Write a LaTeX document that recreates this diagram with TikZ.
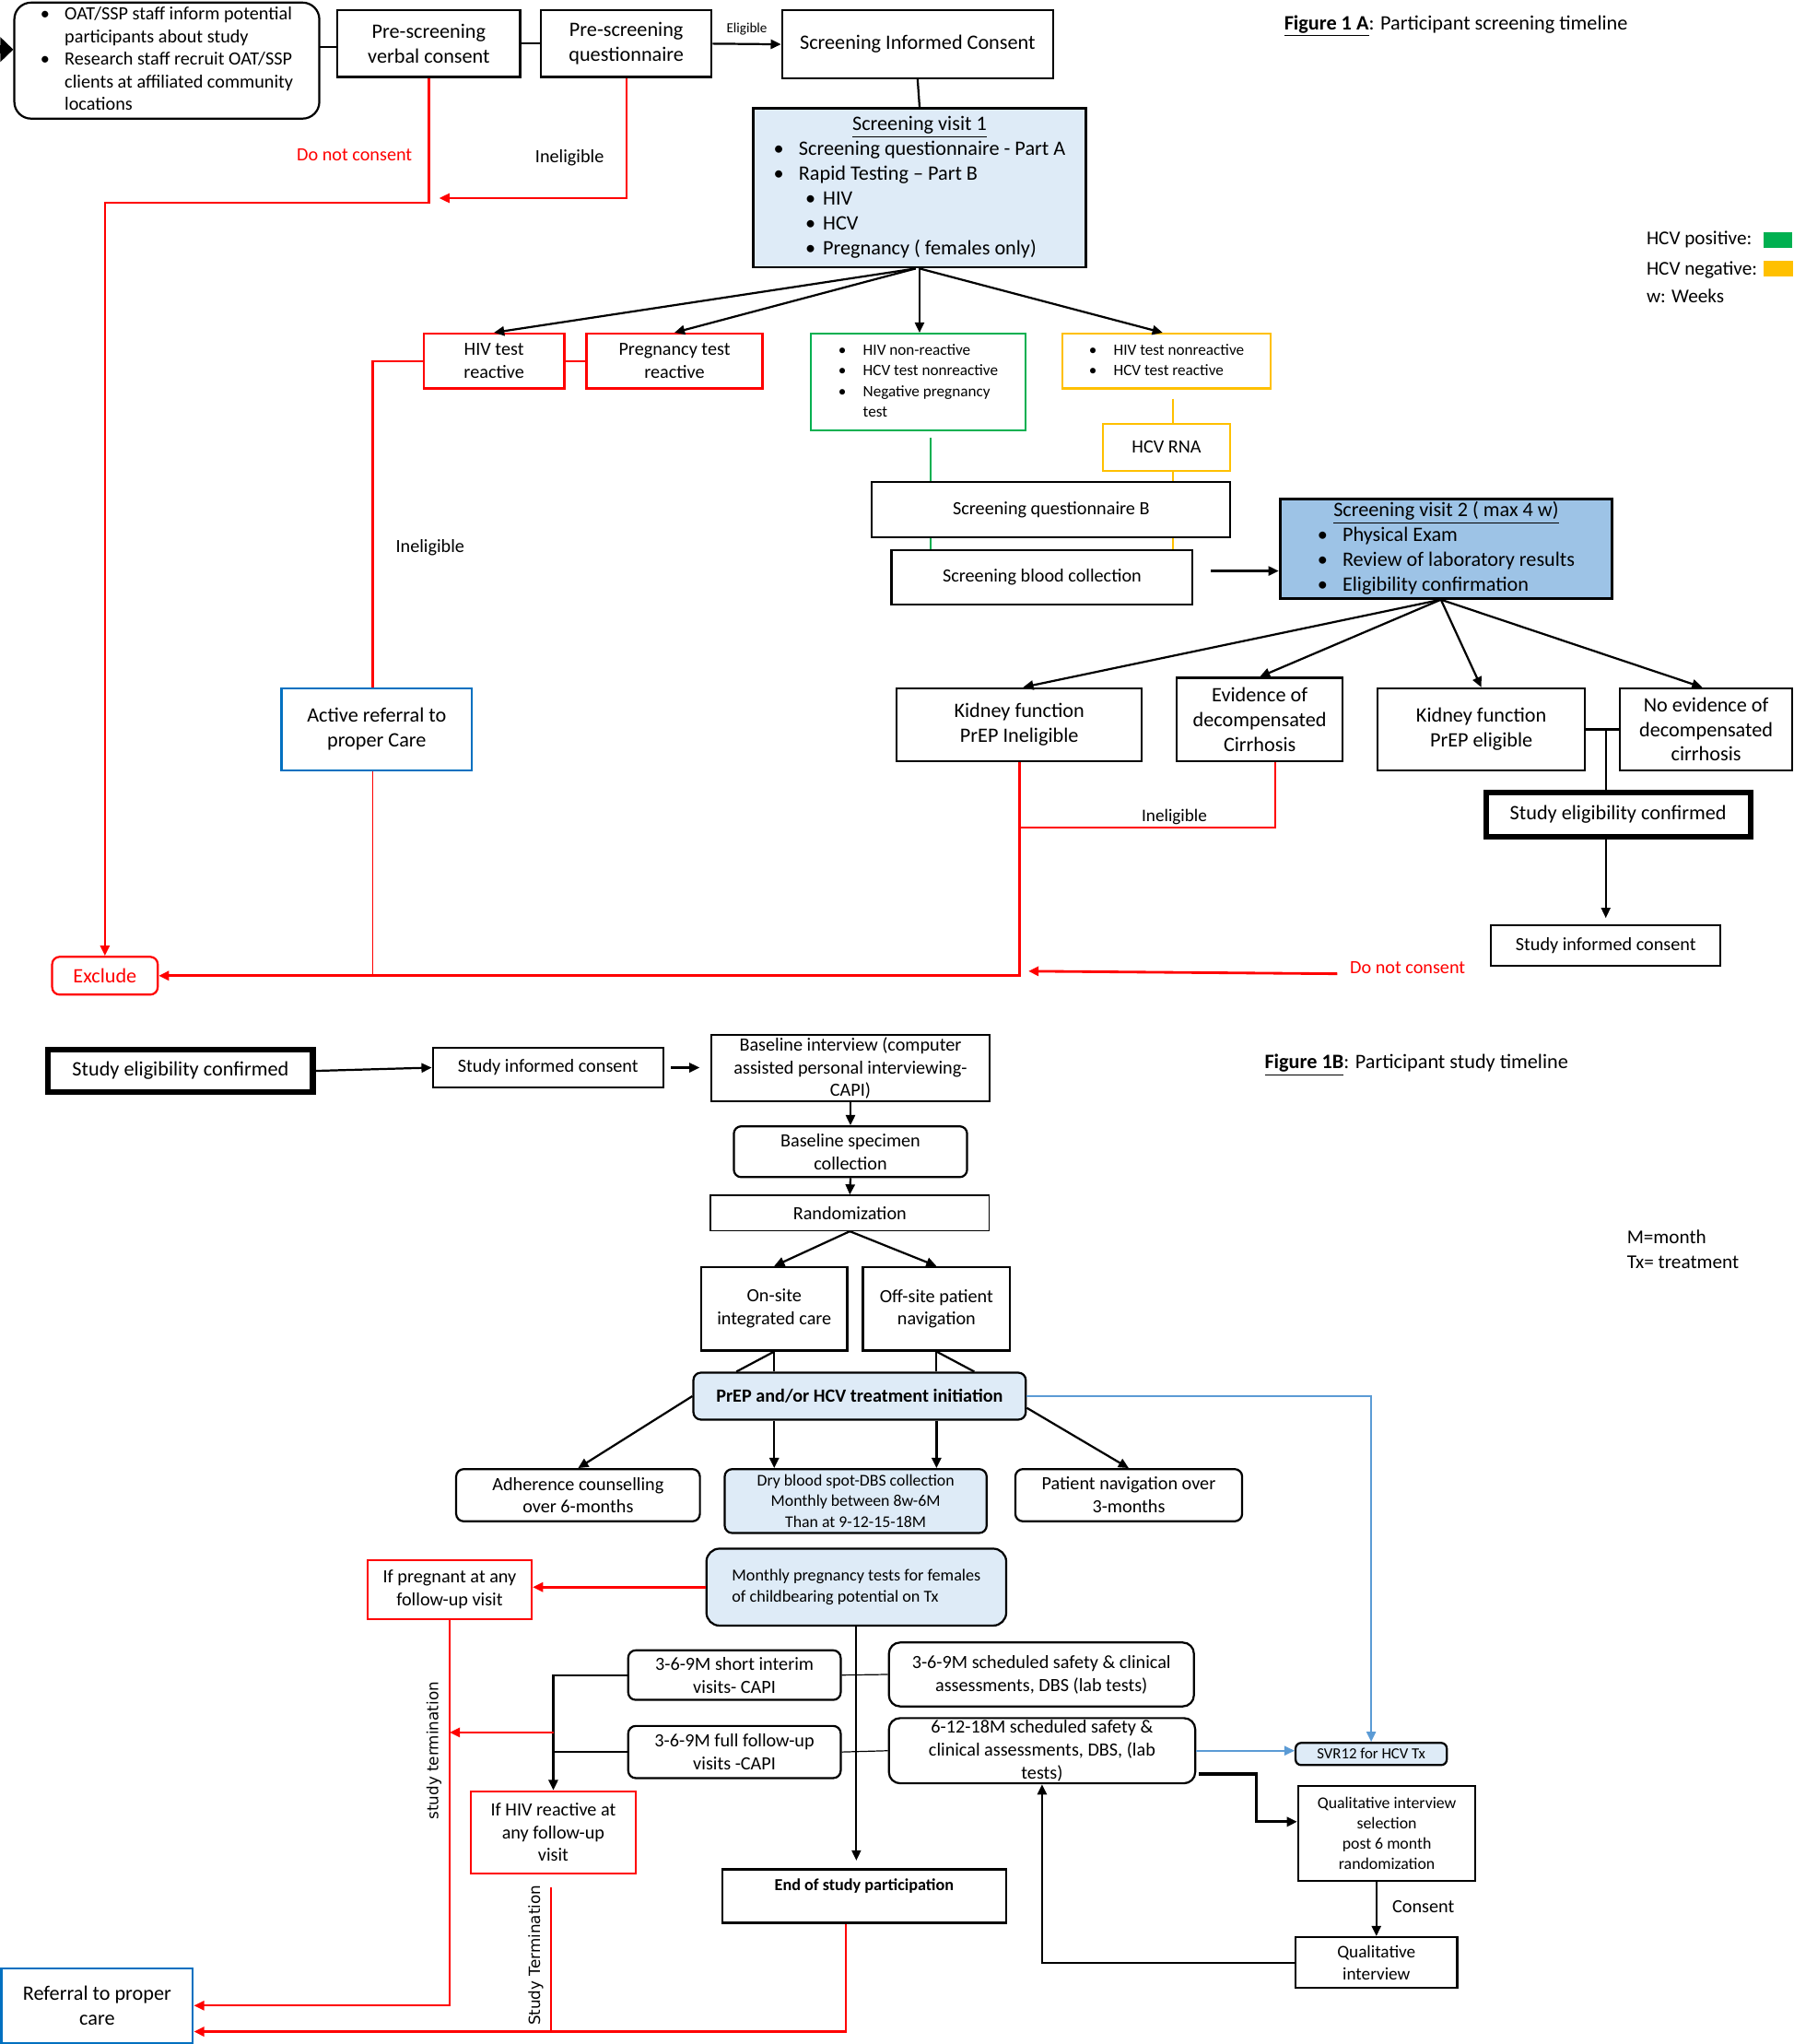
\documentclass[tikz,border=0pt]{standalone}
\usepackage{fontspec}
\setmainfont{Carlito}
\newfontfamily\dejavu{DejaVu Sans}
\usetikzlibrary{arrows.meta,calc}
\definecolor{myred}{HTML}{FF0000}
\definecolor{mygreen}{HTML}{00B050}
\definecolor{myyellow}{HTML}{FFC000}
\definecolor{myblue}{HTML}{0070C0}
\definecolor{lblue}{HTML}{DEEBF7}
\definecolor{mblue}{HTML}{9DC3E6}
\definecolor{arrblue}{HTML}{5B9BD5}
\newcommand\fsz[2]{\fontsize{#1}{#2}\selectfont}
\newcommand\bx[7]{\node[#6, minimum width={0.7pt*(#4-#2)}, minimum height={0.7pt*(#5-#3)}] (#1) at ({(#2+#4)/2},{(#3+#5)/2}) {#7};}
\tikzset{
 nbase/.style={align=center, inner sep=0pt, font=\fsz{11}{13.3}},
 box/.style={nbase, draw, line width=1.1pt},
 rbox/.style={box, rounded corners=4pt},
 redbox/.style={box, draw=myred, line width=1.2pt},
 arrtip/.style={-{Triangle[length=5.5pt,width=5pt]}},
 arr/.style={arrtip, line width=1.1pt},
 conn/.style={line width=1.1pt},
 hair/.style={line width=0.6pt},
 rline/.style={draw=myred, line width=1.1pt},
 lbl/.style={inner sep=1pt, font=\fsz{10}{12}},
}
\begin{document}
\begin{tikzpicture}[x=0.7pt,y=-0.7pt]
\path[use as bounding box, fill=white] (0,0) rectangle (1376,1568);

% ---------------- Figure 1A ----------------
\bx{oat}{11}{2}{245}{91}{box, rounded corners=9pt, font=\fsz{10}{12.1}}{\begin{tabular}{@{}l@{\hspace{8pt}}l@{}}\textbullet & OAT/SSP staff inform potential\\ & participants about study\\ \textbullet & Research staff recruit OAT/SSP\\ & clients at affiliated community\\ & locations\end{tabular}}
\bx{vc}{259}{8}{399}{59}{box}{Pre-screening\\verbal consent}
\bx{pq}{415}{8}{546}{59}{box}{Pre-screening\\questionnaire}
\bx{sic}{600}{8}{808}{60}{box}{Screening Informed Consent}
\bx{sv1}{578}{83}{833}{205}{box, fill=lblue, line width=1.4pt}{\begin{tabular}{@{}l@{\hspace{8pt}}l@{}}\multicolumn{2}{c}{\underline{Screening visit 1}}\\ \textbullet & Screening questionnaire - Part A\\ \textbullet & Rapid Testing – Part B\\ \multicolumn{2}{@{}l}{\hspace{17pt}\textbullet\hspace{4pt}HIV}\\ \multicolumn{2}{@{}l}{\hspace{17pt}\textbullet\hspace{4pt}HCV}\\ \multicolumn{2}{@{}l}{\hspace{17pt}\textbullet\hspace{4pt}Pregnancy ( females only)}\end{tabular}}
\bx{hiv}{325}{256}{433}{298}{redbox, font=\fsz{10}{12.6}}{HIV test\\reactive}
\bx{preg}{450}{256}{585}{298}{redbox, font=\fsz{10}{12.6}}{Pregnancy test\\reactive}
\bx{gr}{622}{256}{787}{330}{box, draw=mygreen, font=\fsz{8.5}{11.2}}{\begin{tabular}{@{}l@{\hspace{9pt}}l@{}}\textbullet & HIV non-reactive\\ \textbullet & HCV test nonreactive\\ \textbullet & Negative pregnancy\\ & test\end{tabular}}
\bx{yel}{815}{256}{975}{298}{box, draw=myyellow, font=\fsz{8.5}{11.2}}{\begin{tabular}{@{}l@{\hspace{9pt}}l@{}}\textbullet & HIV test nonreactive\\ \textbullet & HCV test reactive\end{tabular}}
\bx{rna}{846}{325}{944}{361}{box, draw=myyellow, font=\fsz{10}{12}}{HCV RNA}
\bx{sqb}{669}{370}{944}{412}{box, font=\fsz{10}{12}}{Screening questionnaire B}
\bx{sbc}{684}{422}{915}{464}{box, font=\fsz{10}{12}}{Screening blood collection}
\bx{sv2}{982}{383}{1237}{459}{box, fill=mblue, line width=1.4pt}{\begin{tabular}{@{}l@{\hspace{8pt}}l@{}}\multicolumn{2}{c}{\underline{Screening visit 2 ( max 4 w)}}\\ \textbullet & Physical Exam\\ \textbullet & Review of laboratory results\\ \textbullet & Eligibility confirmation\end{tabular}}
\bx{kin}{688}{528}{876}{584}{box}{Kidney function\\PrEP Ineligible}
\bx{evd}{903}{520}{1030}{584}{box}{Evidence of\\decompensated\\Cirrhosis}
\bx{kel}{1057}{528}{1216}{591}{box}{Kidney function\\PrEP eligible}
\bx{nev}{1243}{528}{1375}{591}{box}{No evidence of\\decompensated\\cirrhosis}
\bx{sec}{1140}{608}{1343}{642}{box, line width=3pt}{Study eligibility confirmed}
\bx{sic2}{1144}{710}{1320}{741}{box, font=\fsz{10}{12}}{Study informed consent}
\bx{ref}{216}{528}{362}{591}{box, draw=myblue}{Active referral to\\proper Care}
\bx{exclude}{40}{734}{121}{763}{box, draw=myred, rounded corners=4pt, text=myred}{Exclude}

\node[anchor=west, inner sep=0pt, font=\fsz{11}{13}] (t1a) at (985,20) {\textbf{\underline{Figure 1 A}}: Participant screening timeline};
\node[anchor=west, inner sep=0pt, font=\fsz{10.5}{12}] (lg1) at (1263,184) {HCV positive:};
\node[anchor=west, inner sep=0pt, font=\fsz{10.5}{12}] (lg2) at (1263,207) {HCV negative:};
\node[anchor=west, inner sep=0pt, font=\fsz{10.5}{12}] (lg3) at (1263,227) {w: Weeks};
\fill[mygreen] (1353,178) rectangle (1375,190);
\fill[myyellow] (1353,200) rectangle (1376,212);

% connectors 1A
\coordinate (st) at (0,38);
\draw[line width=4.5pt, -{Triangle[length=7pt,width=13pt]}] (st) -- (st -| oat.west);
\coordinate (l1) at (245,36);
\draw[conn] (l1) -- (l1 -| vc.west);
\draw[conn] (vc.east) -- (pq.west);
\draw[arr] (pq.east) -- (sic.west);
\node[font=\fsz{7.5}{9}, inner sep=0pt] (elig) at (573,22) {Eligible};
\draw[conn] (sic.south) -- (sv1.north);

\draw[rline, arrtip] (vc.south) -- ++(0,96) -| (exclude.north);
\coordinate (m1) at (337,152);
\draw[rline, arrtip] (pq.south) |- (m1);
\node[lbl, text=myred] (dnc1) at (272,119) {Do not consent};
\node[lbl] (inel1) at (437,121) {Ineligible};

\draw[arr] ($(sv1.south)+(-3,0)$) -- (hiv.north);
\draw[arr] ($(sv1.south)+(-3,0)$) -- (preg.north);
\draw[arr] (sv1.south) -- (sv1.south |- gr.north);
\draw[arr] (sv1.south) -- ($(yel.north)+(-3,0)$);

\draw[rline] (hiv.east) -- (preg.west);
\draw[rline] (hiv.west) -| ($(ref.north)+(-3,0)$);
\node[lbl] (inel2) at (330,420) {Ineligible};
\draw[rline, line width=0.7pt] ($(ref.south)+(-3,0)$) -- ($(ref.south |- exclude.east)+(-3,0)$);
\draw[rline, arrtip, line width=1.4pt] (kin.south) |- (exclude.east);
\draw[rline, line width=0.7pt] ($(evd.south)+(12,0)$) |- ($(kin.south)+(0,50)$);
\node[lbl, font=\fsz{9.5}{11}] (inel3) at (901,627) {Ineligible};
\node[lbl, text=myred] (dnc2) at (1080,742) {Do not consent};
\coordinate (dnce) at (789,745);
\draw[rline, arrtip, line width=1.4pt] ($(dnc2.west)+(-8,5)$) -- (dnce);

\coordinate (gx) at (714,0);
\coordinate (yx) at (900,0);
\draw[mygreen, hair] ($(gx |- gr.south)+(0,5)$) -- (gx |- sqb.north);
\draw[mygreen, hair] (gx |- sqb.south) -- (gx |- sbc.north);
\draw[myyellow, line width=0.8pt] ($(yx |- yel.south)+(0,7)$) -- (yx |- rna.north);
\draw[myyellow, line width=0.8pt] (yx |- rna.south) -- (yx |- sqb.north);
\draw[myyellow, line width=0.8pt] (yx |- sqb.south) -- (yx |- sbc.north);

\coordinate (sb2) at (929,438);
\draw[arr] (sb2) -- (sb2 -| sv2.west);

\draw[arr] ($(sv2.south)+(-4,0)$) -- ($(kin.north)+(3,0)$);
\draw[arr] ($(sv2.south)+(-4,0)$) -- (evd.north);
\draw[arr] ($(sv2.south)+(-4,0)$) -- (kel.north);
\draw[arr] ($(sv2.south)+(-4,0)$) -- ($(nev.north)+(-3,0)$);
\draw[conn] (kel.east) -- (nev.west);
\coordinate (j1) at (1232,560);
\draw[conn] (j1) -- (j1 |- sec.north);
\draw[arr, line width=0.8pt] (j1 |- sec.south) -- ($(sic2.north)+(0,-5)$);

% ---------------- Figure 1B ----------------
\bx{sec2}{37}{805}{240}{838}{box, line width=3pt}{Study eligibility confirmed}
\bx{sic3}{332}{804}{509}{834}{box, font=\fsz{10}{12}}{Study informed consent}
\bx{bi}{546}{794}{759}{845}{box, font=\fsz{10}{12}}{Baseline interview (computer\\assisted personal interviewing-\\CAPI)}
\bx{bsc}{563}{864}{742}{903}{rbox, font=\fsz{10}{12.3}}{Baseline specimen\\collection}
\bx{rand}{545}{917}{759}{944}{box, line width=0.8pt, font=\fsz{10}{12}}{Randomization}
\bx{onsite}{538}{972}{650}{1036}{box, font=\fsz{10}{12.3}}{On-site\\integrated care}
\bx{offsite}{662}{972}{775}{1036}{box, font=\fsz{10}{12.3}}{Off-site patient\\navigation}
\bx{prep}{532}{1053}{787}{1089}{rbox, fill=lblue, font=\fsz{10}{12}}{\textbf{PrEP and/or HCV treatment initiation}}
\bx{adh}{350}{1127}{537}{1167}{rbox, font=\fsz{10}{12.3}}{Adherence counselling\\over 6-months}
\bx{dbs}{556}{1127}{757}{1176}{rbox, fill=lblue, font=\fsz{8.8}{11}}{Dry blood spot-DBS collection\\Monthly between 8w-6M\\Than at 9-12-15-18M}
\bx{pnav}{779}{1127}{953}{1167}{rbox, font=\fsz{10}{12.3}}{Patient navigation over\\3-months}
\bx{mpt}{542}{1188}{772}{1247}{rbox, rounded corners=7pt, fill=lblue, align=left, font=\fsz{9}{11.3}}{Monthly pregnancy tests for females\\of childbearing potential on Tx}
\bx{ifp}{282}{1197}{408}{1242}{redbox, line width=1pt, font=\fsz{10}{12.3}}{If pregnant at any\\follow-up visit}
\bx{si}{482}{1266}{645}{1304}{rbox, font=\fsz{10}{12.3}}{3-6-9M short interim\\visits- CAPI}
\bx{ff}{482}{1324}{645}{1364}{rbox, font=\fsz{10}{12.3}}{3-6-9M full follow-up\\visits -CAPI}
\bx{s369}{682}{1260}{916}{1309}{rbox, rounded corners=6pt, font=\fsz{10}{12.3}}{3-6-9M scheduled safety \& clinical\\assessments, DBS (lab tests)}
\bx{s61218}{682}{1318}{917}{1368}{rbox, rounded corners=6pt, font=\fsz{10}{12.3}}{6-12-18M scheduled safety \&\\clinical assessments, DBS, (lab\\tests)}
\bx{hivr}{361}{1374}{488}{1437}{redbox, line width=1pt, font=\fsz{10}{12.3}}{If HIV reactive at\\any follow-up\\visit}
\bx{eos}{554}{1434}{772}{1475}{box}{}
\node[font=\fsz{9}{11}, inner sep=0pt] (eost) at (663,1447) {\textbf{End of study participation}};
\bx{ref2}{1}{1510}{148}{1567}{box, draw=myblue}{Referral to proper\\care}
\bx{svr}{994}{1337}{1110}{1354}{rbox, rounded corners=3pt, fill=lblue, font=\fsz{8.3}{10}}{SVR12 for HCV Tx}
\bx{qis}{996}{1370}{1132}{1443}{box, font=\fsz{8.8}{10.9}}{Qualitative interview\\selection\\post 6 month\\randomization}
\bx{qi}{994}{1486}{1118}{1525}{box, font=\fsz{9.5}{12}}{Qualitative\\interview}

\node[anchor=west, inner sep=0pt, font=\fsz{11}{13}] (t1b) at (970,817) {\textbf{\underline{Figure 1B}}: Participant study timeline};
\node[anchor=west, inner sep=0pt, font=\fsz{10.5}{12}] (mm) at (1248,949) {M=month};
\node[anchor=west, inner sep=0pt, font=\fsz{10.5}{12}] (tx) at (1248,968) {Tx= treatment};
\node[rotate=90, inner sep=0pt, font=\dejavu\fsz{8.3}{10}] (stt1) at (333,1343) {study termination};
\node[rotate=90, inner sep=0pt, font=\dejavu\fsz{8.3}{10}] (stt2) at (411,1500) {Study Termination};
\node[lbl] (cons) at (1092,1463) {Consent};

% connectors 1B
\draw[arr] (sec2.east) -- (sic3.west);
\draw[arr] ($(sic3.east)+(5,0)$) -- ($(sic3.east)+(27,0)$);
\draw[arr] (bi.south) -- (bsc.north);
\draw[arr] (bsc.south) -- (rand.north);
\draw[arr] (rand.south) -- (onsite.north);
\draw[arr] (rand.south) -- (offsite.north);
\draw[conn] (onsite.south) -- (onsite.south |- prep.north);
\draw[conn] (onsite.south) -- ($(onsite.south |- prep.north)+(-29,0)$);
\draw[conn] (offsite.south) -- (offsite.south |- prep.north);
\draw[conn] (offsite.south) -- ($(offsite.south |- prep.north)+(29,0)$);
\draw[arr] (prep.west) -- (adh.north);
\draw[arr] (onsite.south |- prep.south) -- (onsite.south |- dbs.north);
\draw[arr, line width=1.6pt] (offsite.south |- prep.south) -- (offsite.south |- dbs.north);
\draw[arr] ($(prep.east)+(0,9)$) -- (pnav.north);
\draw[arrblue, line width=1pt, arrtip] (prep.east) -| (svr.north);
\draw[rline, arrtip, line width=1.3pt] (mpt.west) -- (mpt.west -| ifp.east);
\draw[rline, arrtip] (ifp.south) |- (ref2.east);
\draw[arrtip, line width=0.9pt] (mpt.south) -- ($(mpt.south |- eos.north)+(0,-6)$);
\draw[hair] (si.east) -- (s369.west);
\draw[hair] (ff.east) -- (s61218.west);
\draw[arr] (si.west) -| (hivr.north);
\draw[conn] (ff.west) -- (ff.west -| hivr.north);
\coordinate (ra) at (425,1329);
\draw[rline, arrtip, line width=1.3pt] (ra) -- (ra -| ifp.south);
\draw[rline] ($(hivr.south)+(-2,10)$) -- ($(hivr.south)+(-2,121)$);
\draw[rline, arrtip, line width=1.3pt] ($(eos.south)+(-14,0)$) |- ($(ref2.east)+(0,20)$);
\draw[arrblue, arrtip, line width=1pt] (s61218.east) -- (s61218.east -| svr.west);
\draw[arr, line width=1.6pt] ($(s61218.south east)+(2,-8)$) -- ++(44,0) |- ($(qis.west)+(0,-9)$);
\draw[arr] (qi.north |- qis.south) -- (qi.north);
\draw[arr] (qi.west) -| (s61218.south);
\end{tikzpicture}
\end{document}
